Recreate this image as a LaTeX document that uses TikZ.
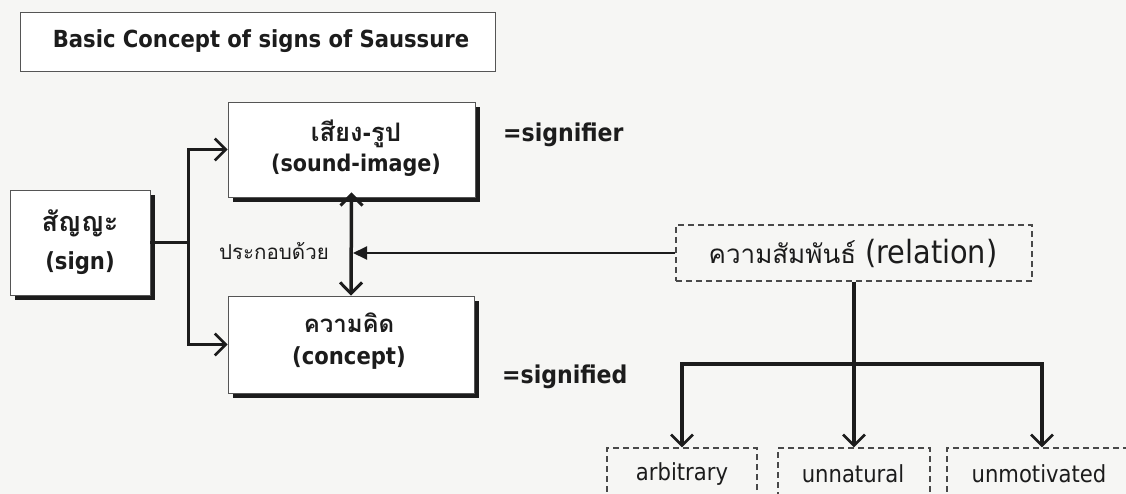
\documentclass[tikz,border=0pt]{standalone}
\usepackage{fontspec}
\setmainfont{DejaVu Sans Condensed}[BoldFont={DejaVu Sans Condensed Bold}]
\newfontfamily\thai[Script=Thai]{Loma}
\usetikzlibrary{arrows.meta,shadows}
\definecolor{paper}{RGB}{246,246,244}
\definecolor{ink}{RGB}{28,28,28}
\newcommand{\thaisz}[2]{{\thai\fontsize{#1}{#1}\selectfont #2}}
\tikzset{
  plainbox/.style={draw=ink!75, line width=0.8pt, fill=white, inner sep=0pt},
  shadowbox/.style={plainbox, general shadow={fill=ink, shadow xshift=5pt, shadow yshift=-5pt}},
  dashbox/.style={draw=ink!80, line width=1.2pt, dash pattern=on 6pt off 4pt, inner sep=0pt},
  label/.style={text=ink, align=center, inner sep=0pt},
  wire/.style={draw=ink, line width=3pt},
  barb/.style={-{Straight Barb[length=11pt,width=22pt,line width=2.6pt]}},
  dbarb/.style={{Straight Barb[length=11pt,width=22pt,line width=3pt]}-{Straight Barb[length=11pt,width=22pt,line width=3pt]}},
  tri/.style={-{Triangle[length=14pt,width=13pt]}}
}
\begin{document}
\begin{tikzpicture}[x=1pt,y=-1pt]
\useasboundingbox (0,0) rectangle (1126,494);
\clip (0,0) rectangle (1126,494);
\fill[paper] (0,0) rectangle (1126,494);

% title
\node[plainbox, minimum width=475pt, minimum height=59pt] (title) at (257.5,41.5) {};
\node[label, font=\bfseries\fontsize{23.5}{28}\selectfont] (titletext) at (261,41.5) {Basic Concept of signs of Saussure};

% sign and its two parts
\node[shadowbox, minimum width=140pt, minimum height=105pt] (sign) at (80,242.5) {};
\node[label, font=\bfseries\fontsize{23.5}{38}\selectfont] (signtext) at (80,242.5) {\thaisz{27}{สัญญะ}\\(sign)};

\node[shadowbox, minimum width=247pt, minimum height=95pt] (sound) at (351.5,149.5) {};
\node[label, font=\bfseries\fontsize{23}{30}\selectfont] (soundtext) at (356,148) {\thaisz{25.5}{เสียง}-\thaisz{25.5}{รูป}\\(sound-image)};

\node[shadowbox, minimum width=246pt, minimum height=97pt] (concept) at (351,344.5) {};
\node[label, font=\bfseries\fontsize{23.5}{32}\selectfont] (concepttext) at (349,341) {\thaisz{24}{ความคิด}\\(concept)};

\node[label, font=\bfseries\fontsize{24.5}{28}\selectfont, anchor=west] (signifier) at (503,135) {=signifier};
\node[label, font=\bfseries\fontsize{24.5}{28}\selectfont, anchor=west] (signified) at (502,377) {=signified};

\node[label, font=\thai\fontsize{20.5}{24}\selectfont, anchor=east] (consist) at (329,251) {ประกอบด้วย};

% relation and its three qualities
\node[dashbox, minimum width=356pt, minimum height=56pt] (rel) at (854,253) {};
\node[label, font=\fontsize{32}{34}\selectfont] (reltext) at (853,253) {\thaisz{26}{ความสัมพันธ์} (relation)};

\node[dashbox, minimum width=150pt, minimum height=52pt] (arb) at (682,474) {};
\node[label, font=\fontsize{23.5}{26}\selectfont] (arbtext) at (682,474) {arbitrary};
\node[dashbox, minimum width=152pt, minimum height=52pt] (unnat) at (854,474) {};
\node[label, font=\fontsize{23.5}{26}\selectfont] (unnattext) at (853,474) {unnatural};
\node[dashbox, minimum width=190pt, minimum height=52pt] (unmot) at (1042,474) {};
\node[label, font=\fontsize{23.5}{26}\selectfont] (unmottext) at (1039,474) {unmotivated};

% connectors
\coordinate (fork) at (188,242.5);
\coordinate (br) at (854,364);
\draw[wire] (sign.east) -- (fork);
\draw[wire, barb] (fork) |- (sound.west);
\draw[wire, barb] (fork) |- (concept.west);
\draw[wire, line width=3.5pt, dbarb, shorten <=-5pt] (sound.south) -- (concept.north);
\draw[wire, line width=2pt, tri, shorten >=1.5pt] (rel.west) -- (rel.west -| sound.south);
\draw[wire, line width=3.2pt] (rel.south) -- (br);
\draw[wire, line width=3.2pt, barb] (br) -| (arb.north);
\draw[wire, line width=3.2pt, barb] (br) -- (unnat.north);
\draw[wire, line width=3.2pt, barb] (br) -| (unmot.north);
\end{tikzpicture}
\end{document}
